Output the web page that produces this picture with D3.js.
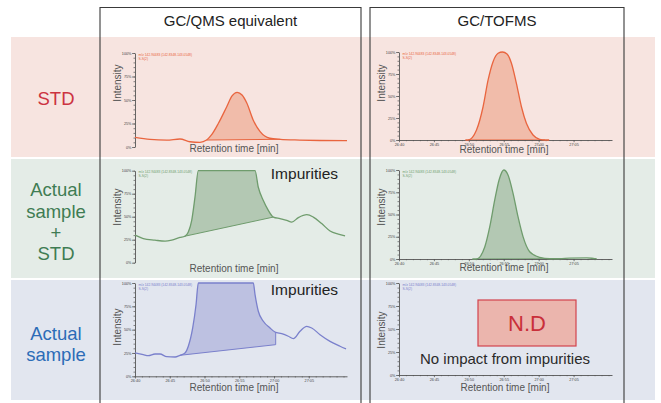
<!DOCTYPE html>
<html><head><meta charset="utf-8">
<script src="https://cdn.jsdelivr.net/npm/d3@7"></script>
<style>
html,body{margin:0;padding:0;background:#fff;}
svg{display:block;font-family:"Liberation Sans",Arial,Helvetica,sans-serif;}
</style>
</head><body>
<svg id="chart" width="661" height="403"></svg>
<script>
// ---- labels ----
const columnTitles = ["GC/QMS equivalent", "GC/TOFMS"];
const rowTitles = [["STD"], ["Actual", "sample", "+", "STD"], ["Actual", "sample"]];
const xTickValues = [0, 5, 10, 15, 20, 25];           // seconds after 26:40
const xTickLabels = ["26:40", "26:45", "26:50", "26:55", "27:00", "27:05"];
const yTickValues = [0, 25, 50, 75, 100];
const yTickLabels = ["0%", "25%", "50%", "75%", "100%"];
const legendLines = ["m/z 142.94483 (142.8348-143.0548)", "S-S(2)"];
const impuritiesLabel = "Impurities";
const ndLabel = "N.D";
const noImpactLabel = "No impact from impurities";

// ---- traces: time [s after 26:40], intensity [%] ----
// STD, GC/QMS equivalent
const stdQmsTime = [0, 2.16, 4.56, 6.47, 7.91, 9.35, 10.3, 11.0, 12.0, 13.2, 13.96, 14.7, 15.4, 16.1, 17.0, 18.0, 19.4, 20.9, 23.7, 26.6, 30.5];
const stdQmsIntensity = [10.3, 8.2, 7.4, 8.5, 5.6, 5.0, 7.4, 12.8, 25.2, 42.9, 54.3, 58.2, 55.3, 46.5, 28.7, 16.3, 9.3, 8.2, 7.4, 6.9, 6.7];
const stdQmsBaseline = [10.3, 7.4, 20.9, 8.2];   // start s, start %, end s, end %

// STD, GC/TOFMS
const stdTofTime = [9.5, 9.9, 11.1, 12.04, 12.76, 13.47, 14.19, 14.81, 15.47, 16.1, 16.81, 17.53, 18.24, 19.19, 20.14, 20.86, 21.5];
const stdTofIntensity = [0, 0, 11.4, 37.8, 68.2, 89.0, 98.5, 100, 97.7, 87.2, 64.4, 37.8, 19.0, 5.7, 0.8, 0, 0];
const stdTofBaseline = [9.9, 0, 20.9, 0];

// Actual sample + STD, GC/QMS equivalent
const mixQmsTime = [0, 1.19, 2.88, 4.32, 5.28, 6.47, 7.19, 7.67, 8.16, 8.63, 9.11, 17.27, 17.74, 18.46, 19.18, 19.9, 20.86, 21.83, 22.55, 23.5, 24.71, 25.65, 26.86, 28.06, 29.25, 30.22];
const mixQmsIntensity = [29.9, 26.3, 24.5, 23.4, 24.5, 27.4, 28.8, 33.4, 46.1, 71.2, 100, 100, 82.0, 67.6, 56.9, 49.6, 47.9, 46.1, 44.2, 49.0, 52.2, 49.6, 42.5, 34.5, 31.0, 29.1];
const mixQmsBaseline = [7.0, 28.5, 19.9, 49.6];

// Actual sample + STD, GC/TOFMS
const mixTofTime = [10.5, 11.1, 12.29, 13.0, 13.71, 14.33, 15.0, 15.61, 16.33, 17.04, 17.76, 18.71, 20.14, 21.57, 23.0, 24.4, 26.9, 28.0, 28.3];
const mixTofIntensity = [0, 0, 13.8, 36.3, 66.3, 88.8, 100, 94.4, 73.8, 47.5, 25.1, 8.2, 1.9, 0.3, 0.3, 1.0, 1.3, 0.5, 0.3];
const mixTofBaseline = [11.1, 0, 21.57, 0.3];

// Actual sample, GC/QMS equivalent
const sampleQmsTime = [0, 1.19, 1.91, 2.88, 3.6, 4.56, 5.76, 6.47, 7.19, 7.67, 8.3, 8.78, 9.11, 17.02, 17.27, 17.74, 18.46, 19.42, 20.14, 21.11, 22.06, 22.78, 23.74, 24.71, 25.42, 26.62, 28.06, 29.5, 30.36];
const sampleQmsIntensity = [25.0, 23.2, 22.1, 23.9, 23.9, 21.0, 20.7, 22.5, 25.0, 32.2, 51.8, 76.7, 100, 100, 87.5, 69.7, 59.0, 51.8, 47.5, 45.7, 42.9, 40.3, 48.2, 53.6, 51.8, 44.6, 37.5, 32.2, 29.3];
const sampleQmsBaseline = [6.47, 22.5, 20.24, 33.9];

// Actual sample, GC/TOFMS: target not detected
const sampleTofTime = [];
const sampleTofIntensity = [];

// ---- drawing ----
const svg = d3.select("#chart");
const font = '"Liberation Sans", Arial, Helvetica, sans-serif';

const rowStyle = [
  {band: "#f7e4e0", text: "#cc3341", stroke: "#e9653f", fill: "#f0b5a0", y0: 37, y1: 157},
  {band: "#e4ece7", text: "#3f7c53", stroke: "#6f9c6d", fill: "#aac2a9", y0: 159, y1: 278},
  {band: "#e2e6ef", text: "#2c6cb7", stroke: "#7a80cc", fill: "#b6bade", y0: 280, y1: 400}
];

// horizontal bands
svg.selectAll("rect.band").data(rowStyle).join("rect")
  .attr("class", "band")
  .attr("x", 11).attr("width", 644)
  .attr("y", d => d.y0).attr("height", d => d.y1 - d.y0)
  .attr("fill", d => d.band);

// row titles
const rowTitleBase = [[105], [196, 217.5, 239, 260], [340, 361]];
rowTitles.forEach((lines, r) => {
  lines.forEach((t, i) => {
    svg.append("text")
      .attr("x", 56).attr("y", rowTitleBase[r][i])
      .attr("text-anchor", "middle")
      .attr("font-size", 18.5).attr("fill", rowStyle[r].text)
      .text(t);
  });
});

// column frames and titles
const columns = [{x0: 100, x1: 361}, {x0: 370, x1: 624}];
columns.forEach((c, i) => {
  svg.append("path")
    .attr("d", `M${c.x0},404V7.5H${c.x1}V404`)
    .attr("fill", "none").attr("stroke", "#3a3a3a").attr("stroke-width", 1.1);
  svg.append("text")
    .attr("x", (c.x0 + c.x1) / 2).attr("y", 26)
    .attr("text-anchor", "middle").attr("font-size", 15).attr("fill", "#222")
    .text(columnTitles[i]);
});

const panels = [
  {row: 0, col: 0, x0: 135, x1: 347, yTop: 53, yBot: 147, xAxis: false, t: stdQmsTime, v: stdQmsIntensity, base: stdQmsBaseline, yMid: 83, xLab: 234, labY: 152},
  {row: 0, col: 1, x0: 399, x1: 612, yTop: 52, yBot: 140, xAxis: true, t: stdTofTime, v: stdTofIntensity, base: stdTofBaseline, yMid: 83, xLab: 504, labY: 153},
  {row: 1, col: 0, x0: 135, x1: 347, yTop: 170.7, yBot: 262.7, xAxis: false, t: mixQmsTime, v: mixQmsIntensity, base: mixQmsBaseline, yMid: 207, xLab: 234, labY: 272},
  {row: 1, col: 1, x0: 399, x1: 612, yTop: 170, yBot: 259, xAxis: true, t: mixTofTime, v: mixTofIntensity, base: mixTofBaseline, yMid: 207, xLab: 504, labY: 271},
  {row: 2, col: 0, x0: 135, x1: 347, yTop: 283, yBot: 376.3, xAxis: true, t: sampleQmsTime, v: sampleQmsIntensity, base: sampleQmsBaseline, yMid: 327, xLab: 234, labY: 391},
  {row: 2, col: 1, x0: 399, x1: 612, yTop: 283, yBot: 375, xAxis: true, t: sampleTofTime, v: sampleTofIntensity, base: null, yMid: 330, xLab: 505, labY: 391}
];

const axisColor = "#555";
function styleAxis(g) {
  g.select("path.domain").attr("stroke", axisColor).attr("stroke-width", 0.9);
  g.selectAll(".tick line").attr("stroke", axisColor).attr("stroke-width", 0.7);
  g.selectAll(".tick text").attr("font-size", 3.8).attr("fill", "#444").attr("font-family", font);
}

panels.forEach((p, k) => {
  const st = rowStyle[p.row];
  const x = d3.scaleLinear().domain([0, 30.5]).range([p.x0, p.x1]);
  const y = d3.scaleLinear().domain([0, 100]).range([p.yBot, p.yTop]);
  const g = svg.append("g");

  // fill between trace and integration baseline
  if (p.base && p.t.length) {
    const [t0, i0, t1, i1] = p.base;
    const baseAt = t => i0 + (i1 - i0) * (t - t0) / (t1 - t0);
    const pts = p.t.map((t, i) => ({t, v: p.v[i]}));
    const clipId = "clip" + k;
    g.append("clipPath").attr("id", clipId).append("rect")
      .attr("x", x(t0)).attr("width", x(t1) - x(t0))
      .attr("y", p.yTop - 5).attr("height", p.yBot - p.yTop + 10);
    g.append("path")
      .datum(pts)
      .attr("clip-path", `url(#${clipId})`)
      .attr("fill", st.fill).attr("fill-opacity", 0.85)
      .attr("d", d3.area().curve(d3.curveMonotoneX)
        .x(d => x(d.t)).y0(d => y(baseAt(d.t))).y1(d => y(d.v)));
    // baseline and closing edge
    const tv = d3.scaleLinear().domain(p.t).range(p.v)(t1);
    g.append("path")
      .attr("d", `M${x(t0)},${y(i0)}L${x(t1)},${y(i1)}L${x(t1)},${y(tv)}`)
      .attr("fill", "none").attr("stroke", st.stroke).attr("stroke-width", 1);
  }

  // axes
  const yMinor = g.append("g").attr("transform", `translate(${p.x0},0)`)
    .call(d3.axisLeft(y).tickValues(d3.range(0, 101, 5)).tickSize(1.5).tickFormat(""));
  yMinor.select("path.domain").remove();
  styleAxis(yMinor);
  const yAx = g.append("g").attr("transform", `translate(${p.x0},0)`)
    .call(d3.axisLeft(y).tickValues(yTickValues).tickSize(3).tickSizeOuter(0)
      .tickFormat((d, i) => yTickLabels[i]));
  styleAxis(yAx);
  yAx.selectAll(".tick text").attr("x", -3.5);

  if (p.xAxis) {
    const xMinor = g.append("g").attr("transform", `translate(0,${p.yBot})`)
      .call(d3.axisBottom(x).tickValues(d3.range(0, 31, 1)).tickSize(1.2).tickFormat(""));
    xMinor.select("path.domain").remove();
    styleAxis(xMinor);
    const xAx = g.append("g").attr("transform", `translate(0,${p.yBot})`)
      .call(d3.axisBottom(x).tickValues(xTickValues).tickSize(2.2).tickSizeOuter(0)
        .tickFormat((d, i) => xTickLabels[i]));
    styleAxis(xAx);
    xAx.selectAll(".tick text").attr("y", 3.2);
  }

  // trace
  if (p.t.length) {
    g.append("path")
      .datum(p.t.map((t, i) => ({t, v: p.v[i]})))
      .attr("fill", "none").attr("stroke", st.stroke).attr("stroke-width", 1.3)
      .attr("stroke-linejoin", "round")
      .attr("d", d3.line().curve(d3.curveMonotoneX).x(d => x(d.t)).y(d => y(d.v)));
  }

  // legend
  legendLines.forEach((l, i) => {
    g.append("text")
      .attr("x", p.x0 + 3.5).attr("y", p.yTop + 2.5 + i * 4.2)
      .attr("font-size", 3.3).attr("fill", st.stroke)
      .text(l);
  });

  // axis titles
  g.append("text")
    .attr("transform", `translate(${p.col === 0 ? 120.5 : 384.5},${p.yMid}) rotate(-90)`)
    .attr("text-anchor", "middle").attr("font-size", 10).attr("fill", "#555")
    .text("Intensity");
  g.append("text")
    .attr("x", p.xLab).attr("y", p.labY)
    .attr("text-anchor", "middle").attr("font-size", 10).attr("fill", "#555")
    .text("Retention time [min]");
});

// annotations
[179, 295].forEach(yb => {
  svg.append("text")
    .attr("x", 338).attr("y", yb).attr("text-anchor", "end")
    .attr("font-size", 15.5).attr("fill", "#222")
    .text(impuritiesLabel);
});

svg.append("rect")
  .attr("x", 478).attr("y", 300).attr("width", 98).attr("height", 46)
  .attr("fill", "#ebb5ad").attr("stroke", "#d2434d").attr("stroke-width", 1.2);
svg.append("text")
  .attr("x", 527).attr("y", 331).attr("text-anchor", "middle")
  .attr("font-size", 22).attr("fill", "#c92f3a")
  .text(ndLabel);
svg.append("text")
  .attr("x", 505).attr("y", 364).attr("text-anchor", "middle")
  .attr("font-size", 15).attr("fill", "#2a2a2a")
  .text(noImpactLabel);
</script>
</body></html>
